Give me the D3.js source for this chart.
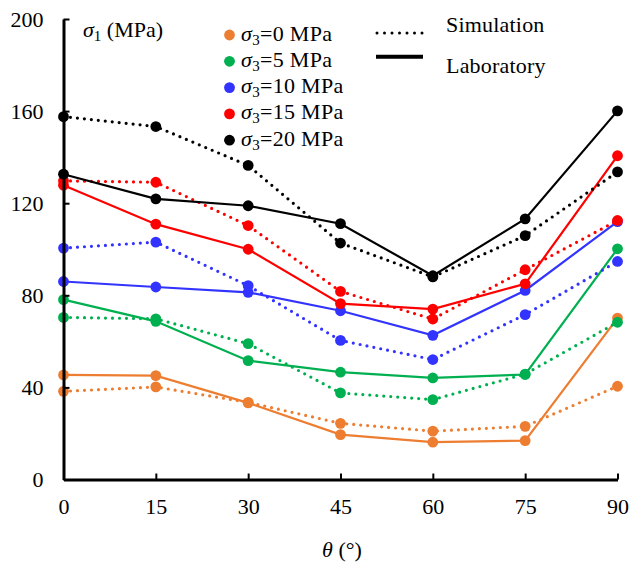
<!DOCTYPE html>
<html>
<head>
<meta charset="utf-8">
<script src="https://cdn.jsdelivr.net/npm/d3@7"></script>
<style>
  html, body { margin: 0; padding: 0; background: #fff; }
  svg { display: block; }
</style>
</head>
<body>
<svg id="chart" width="632" height="567"></svg>
<script>
// Inclination angle of the bedding plane (degrees)
const angles = [0, 15, 30, 45, 60, 75, 90];

// Peak strength sigma1 (MPa) for each confining pressure sigma3
const sim0  = [38.3, 40.2, 33.5, 24.4, 21.0, 23.1, 40.5];
const lab0  = [45.4, 45.1, 33.3, 19.5, 16.2, 16.9, 70.1];
const sim5  = [70.4, 69.8, 59.0, 37.6, 34.7, 45.8, 68.3];
const lab5  = [78.1, 68.7, 51.6, 46.6, 44.1, 45.6, 100.2];
const sim10 = [100.5, 103.1, 84.2, 60.4, 52.1, 71.6, 94.7];
const lab10 = [86.0, 83.6, 81.3, 73.3, 62.6, 82.1, 112.0];
const sim15 = [129.7, 129.1, 110.3, 81.7, 69.7, 91.1, 112.5];
const lab15 = [127.8, 110.9, 100.0, 76.4, 74.0, 85.0, 140.6];
const sim20 = [157.6, 153.3, 136.4, 102.7, 88.0, 105.9, 133.6];
const lab20 = [132.6, 121.9, 118.9, 111.1, 88.5, 113.2, 160.1];

const pressures = ["0", "5", "10", "15", "20"];
const colors = ["#ED7D31", "#00B050", "#3333FF", "#FF0000", "#000000"];
const simSeries = [sim0, sim5, sim10, sim15, sim20];
const labSeries = [lab0, lab5, lab10, lab15, lab20];

const xTicks = [0, 15, 30, 45, 60, 75, 90];
const yTicks = [0, 40, 80, 120, 160, 200];

const FONT = "'Liberation Serif', 'Times New Roman', serif";
const FS = 22;

const svg = d3.select("#chart").attr("font-family", FONT);
const x = d3.scaleLinear().domain([0, 90]).range([63.5, 617.5]);
const y = d3.scaleLinear().domain([0, 200]).range([479.5, 19]);

const line = d3.line().x((d, i) => x(angles[i])).y(d => y(d));

// Data series: dotted = simulation, solid = laboratory
pressures.forEach((p, k) => {
  const g = svg.append("g").attr("class", "series-" + p);
  [simSeries[k], labSeries[k]].forEach((vals, j) => {
    g.append("path")
      .datum(vals)
      .attr("d", line)
      .attr("fill", "none")
      .attr("stroke", colors[k])
      .attr("stroke-width", j === 0 ? 3.2 : 2.2)
      .attr("stroke-linecap", "round")
      .attr("stroke-dasharray", j === 0 ? "0 7" : null);
  });
  [simSeries[k], labSeries[k]].forEach(vals => {
    g.selectAll(null)
      .data(vals)
      .join("circle")
      .attr("cx", (d, i) => x(angles[i]))
      .attr("cy", d => y(d))
      .attr("r", 5.4)
      .attr("fill", colors[k]);
  });
});

// Axes with inward ticks
const xAxis = svg.append("g")
  .attr("transform", `translate(0,${y(0)})`)
  .call(d3.axisBottom(x).tickValues(xTicks).tickSizeInner(-6).tickSizeOuter(0).tickPadding(20));
const yAxis = svg.append("g")
  .attr("transform", `translate(${x(0)},0)`)
  .call(d3.axisLeft(y).tickValues(yTicks).tickSizeInner(-6).tickSizeOuter(0).tickPadding(20));

[xAxis, yAxis].forEach(a => {
  a.attr("font-family", FONT).attr("font-size", FS);
  a.select(".domain").attr("stroke", "#000").attr("stroke-width", 3);
  a.selectAll(".tick line").attr("stroke", "#000").attr("stroke-width", 2);
  a.selectAll(".tick text").attr("fill", "#000");
});
xAxis.selectAll(".tick text").attr("dy", "0.68em");
yAxis.selectAll(".tick text").attr("dy", "0.34em");

// Y axis title
const yTitle = svg.append("text")
  .attr("x", 83).attr("y", 37)
  .attr("font-size", FS);
yTitle.append("tspan").attr("font-style", "italic").text("σ");
yTitle.append("tspan").attr("dy", 4).attr("font-size", 15).text("1");
yTitle.append("tspan").attr("dy", -4).text(" (MPa)");

// X axis title
const xTitle = svg.append("text")
  .attr("x", 342).attr("y", 557)
  .attr("text-anchor", "middle")
  .attr("font-size", FS);
xTitle.append("tspan").attr("font-style", "italic").text("θ");
xTitle.append("tspan").text(" (°)");

// Legend: confining pressures
const leg = svg.append("g");
pressures.forEach((p, k) => {
  const cy = 35 + k * 26.3;
  leg.append("circle").attr("cx", 229.5).attr("cy", cy).attr("r", 5.4).attr("fill", colors[k]);
  const t = leg.append("text").attr("x", 241).attr("y", cy + 5.5)
    .attr("font-size", FS).attr("letter-spacing", 0.3);
  t.append("tspan").attr("font-style", "italic").text("σ");
  t.append("tspan").attr("dy", 4).attr("font-size", 15).text("3");
  t.append("tspan").attr("dy", -4).text("=" + p + " MPa");
});

// Legend: line styles
svg.append("line")
  .attr("x1", 377).attr("x2", 423).attr("y1", 33).attr("y2", 33)
  .attr("stroke", "#000").attr("stroke-width", 3)
  .attr("stroke-linecap", "round").attr("stroke-dasharray", "0 7.5");
svg.append("line")
  .attr("x1", 376).attr("x2", 423).attr("y1", 56.7).attr("y2", 56.7)
  .attr("stroke", "#000").attr("stroke-width", 4);
svg.append("text").attr("x", 446).attr("y", 31.5).attr("font-size", FS).attr("letter-spacing", 0.2).text("Simulation");
svg.append("text").attr("x", 446).attr("y", 73).attr("font-size", FS).attr("letter-spacing", 0.2).text("Laboratory");
</script>
</body>
</html>
